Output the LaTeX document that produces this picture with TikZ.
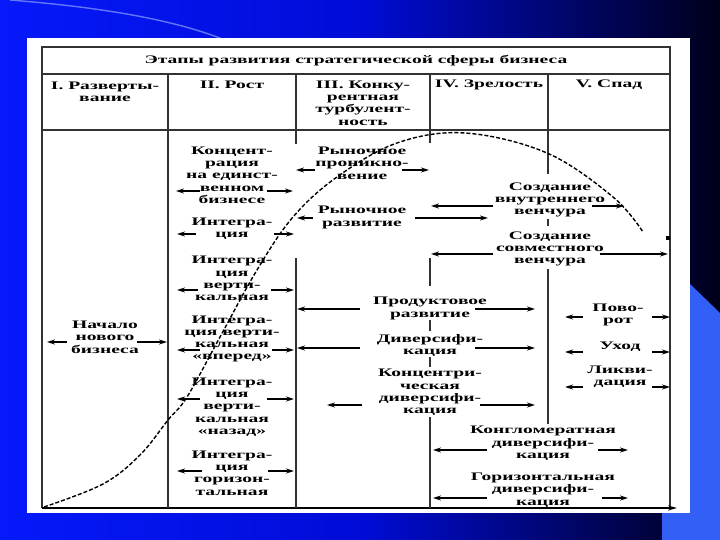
\documentclass[tikz,border=0pt]{standalone}
\usepackage{fontspec}
\newfontfamily\lbf[FakeStretch=1.7]{Liberation Serif}
\usetikzlibrary{arrows.meta}
\definecolor{bgL}{RGB}{5,25,250}
\definecolor{bgM}{RGB}{0,12,215}
\definecolor{bgR}{RGB}{0,0,25}
\definecolor{patch}{RGB}{50,95,245}
\definecolor{swoosh}{RGB}{140,160,255}
\definecolor{rule}{RGB}{50,50,50}
\tikzset{
  lbl/.style={font=\lbf\bfseries\fontsize{11.5}{12.3}\selectfont, align=center, inner sep=0pt},
  arr/.style={line width=1.2pt, -{Stealth[length=8pt,width=5pt]}},
  frame/.style={draw=rule, line width=1.5pt},
  col/.style={draw=rule, line width=2pt},
  curve/.style={line width=1.4pt, dash pattern=on 4pt off 2pt},
}
\begin{document}
\begin{tikzpicture}[x=1pt,y=-1pt]
\useasboundingbox (0,0) rectangle (720,540);
% background
\shade[left color=bgL, right color=bgR, middle color=bgM] (0,0) rectangle (720,540);
\fill[patch] (689,283) -- (720,313) -- (720,540) -- (662,540) -- (662,513) -- (689,513) -- cycle;
\draw[swoosh, line width=1.4pt, opacity=.7] (10,0) .. controls (110,8) and (190,22) .. (243,48);
\fill[white] (27,38) rectangle (690,513);
% table frame
\draw[frame] (42,508) -- (42,47) -- (670,47) -- (670,508);
\draw[frame] (42,74) -- (670,74);
\draw[frame] (42,130) -- (670,130);
\coordinate (ax0) at (42,508);
\coordinate (ax1) at (677,508);
\draw[frame, -{Stealth[length=9pt,width=5pt]}, draw=black] (ax0) -- (ax1);
% column lines
\draw[col] (168,74) -- (168,508);
\draw[col] (296,74) -- (296,144) (296,258) -- (296,508);
\draw[col] (430,74) -- (430,143) (430,258) -- (430,286) (430,320) -- (430,331) (430,357) -- (430,367) (430,417) -- (430,508);
\draw[col] (548,74) -- (548,174) (548,219) -- (548,226) (548,269) -- (548,424);
\fill[black] (666,236) rectangle (670,240);
% curve
\draw[curve] plot[smooth, tension=0.6] coordinates {(44,507) (103,484) (140,455) (168,420) (187,397) (220,337) (257,270) (293,217) (337,177) (397,143) (465,133) (547,153) (613,197) (643,232)};
% title & headers
\node[lbl] (title) at (356,61) {Этапы развития стратегической сферы бизнеса};
\node[lbl] (h1) at (105,91.5) {I. Разверты-\\вание};
\node[lbl] (h2) at (232,85) {II. Рост};
\node[lbl] (h3) at (363,103) {III. Конку-\\рентная\\турбулент-\\ность};
\node[lbl] (h4) at (489,85) {IV. Зрелость};
\node[lbl] (h5) at (609,85) {V. Спад};
% body labels
\node[lbl] (a1) at (105,337) {Начало\\нового\\бизнеса};
\node[lbl] (b1) at (232,175) {Концент-\\рация\\на единст-\\венном\\бизнесе};
\node[lbl] (b2) at (232,229) {Интегра-\\ция};
\node[lbl] (b3) at (232,278.5) {Интегра-\\ция\\верти-\\кальная};
\node[lbl] (b4) at (232,339) {Интегра-\\ция верти-\\кальная\\«вперед»};
\node[lbl] (b5) at (232,407) {Интегра-\\ция\\верти-\\кальная\\«назад»};
\node[lbl] (b6) at (232,473) {Интегра-\\ция\\горизон-\\тальная};
\node[lbl] (c1) at (362,163) {Рыночное\\проникно-\\вение};
\node[lbl] (c2) at (362,217.5) {Рыночное\\развитие};
\node[lbl] (d1) at (550,200) {Создание\\внутреннего\\венчура};
\node[lbl] (d2) at (550,249) {Создание\\совместного\\венчура};
\node[lbl] (c3) at (430,308.5) {Продуктовое\\развитие};
\node[lbl] (c4) at (430,345.5) {Диверсифи-\\кация};
\node[lbl] (c5) at (430,392.5) {Концентри-\\ческая\\диверсифи-\\кация};
\node[lbl] (d3) at (543,443.5) {Конгломератная\\диверсифи-\\кация};
\node[lbl] (d4) at (543,490) {Горизонтальная\\диверсифи-\\кация};
\node[lbl] (e1) at (618,315) {Пово-\\рот};
\node[lbl] (e2) at (620,347) {Уход};
\node[lbl] (e3) at (620,376.5) {Ликви-\\дация};
% arrows: y, left start, left tip, right start, right tip
\foreach \y/\la/\lb/\ra/\rb in {
  342/67/47/137/167,
  191/200/176/267/293,
  234/196/177/274/294,
  290/198/177/271/294,
  350/200/177/272/294,
  399/200/177/267/294,
  471/202/177/268/294,
  170/315/296/402/429,
  218/313/297/415/488,
  206/493/431/592/624,
  254/493/431/600/668,
  309/360/297/475/535,
  348/360/297/475/535,
  405/362/327/480/535,
  450/487/433/598/628,
  498/487/433/602/628,
  317/583/565/652/670,
  352/583/565/652/670,
  387/583/565/652/670}{
  \draw[arr] (\la,\y) -- (\lb,\y);
  \draw[arr] (\ra,\y) -- (\rb,\y);
}
\end{tikzpicture}
\end{document}
